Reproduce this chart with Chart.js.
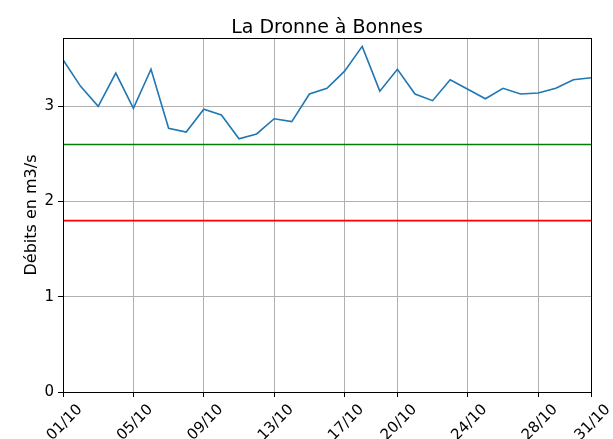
<!DOCTYPE html>
<html>
<head>
<meta charset="utf-8">
<script src="https://cdn.jsdelivr.net/npm/chart.js@4.4.0/dist/chart.umd.min.js"></script>
<style>
html,body{margin:0;padding:0;background:#fff;}
#wrap{width:613px;height:439px;position:relative;}
</style>
</head>
<body>
<div id="wrap"><canvas id="c" width="613" height="439"></canvas></div>
<script>
const title = "La Dronne à Bonnes";
const yLabel = "Débits en m3/s";
const days = [1,2,3,4,5,6,7,8,9,10,11,12,13,14,15,16,17,18,19,20,21,22,23,24,25,26,27,28,29,30,31];
const flows = [3.49,3.21,3.00,3.35,2.98,3.39,2.77,2.73,2.97,2.91,2.66,2.71,2.87,2.84,3.13,3.19,3.37,3.63,3.16,3.39,3.13,3.06,3.28,3.18,3.08,3.19,3.13,3.14,3.19,3.28,3.30];
const greenLevel = 2.6;
const redLevel = 1.8;
const xTickDays = [1,5,9,13,17,20,24,28,31];
const yTicks = [0,1,2,3];
const monthSuffix = "/10";

const FONT = "'DejaVu Sans', sans-serif";

const framePlugin = {
  id: 'frame',
  afterDraw(chart) {
    const {ctx, chartArea: a} = chart;
    ctx.save();
    ctx.strokeStyle = '#000';
    ctx.lineWidth = 1;
    ctx.strokeRect(Math.round(a.left)+0.5, Math.round(a.top)+0.5, Math.round(a.right-a.left), Math.round(a.bottom-a.top));
    ctx.fillStyle = '#000';
    ctx.font = "19px " + FONT;
    ctx.textAlign = 'center';
    ctx.textBaseline = 'alphabetic';
    ctx.fillText(title, (a.left + a.right)/2, 33);
    ctx.restore();
  }
};

new Chart(document.getElementById('c'), {
  type: 'line',
  data: {
    datasets: [
      {
        data: days.map((d,i)=>({x:d, y:flows[i]})),
        borderColor: '#1f77b4', borderWidth: 1.6, pointRadius: 0, tension: 0, fill: false
      },
      {
        data: [{x:days[0], y:greenLevel},{x:days[days.length-1], y:greenLevel}],
        borderColor: '#008000', borderWidth: 1.6, pointRadius: 0, fill: false
      },
      {
        data: [{x:days[0], y:redLevel},{x:days[days.length-1], y:redLevel}],
        borderColor: '#ff0000', borderWidth: 1.6, pointRadius: 0, fill: false
      }
    ]
  },
  options: {
    responsive: false,
    animation: false,
    layout: {padding: {top: 38, right: 22, left: 0, bottom: 0}},
    plugins: {legend: {display: false}, tooltip: {enabled: false}, title: {display: false}},
    scales: {
      x: {
        type: 'linear',
        min: days[0], max: days[days.length-1],
        afterBuildTicks(s){ s.ticks = xTickDays.map(v=>({value:v})); },
        afterFit(s){
          s.height = 47;
          if (!s._shifted) {
            const orig = s.drawLabels;
            s.drawLabels = function(area){
              const ctx = this.ctx;
              ctx.save();
              ctx.translate(17, 2);
              orig.call(this, area);
              ctx.restore();
            };
            s._shifted = true;
          }
        },
        ticks: {
          autoSkip: false, maxRotation: 45, minRotation: 45,
          color: '#000', font: {family: FONT, size: 15}, padding: 2,
          callback: (v)=> String(v).padStart(2,'0') + monthSuffix
        },
        grid: {color: '#b0b0b0', lineWidth: 1, tickColor: '#000', tickLength: 5},
        border: {display: false}
      },
      y: {
        min: 0, max: 3.718,
        afterBuildTicks(s){ s.ticks = yTicks.map(v=>({value:v})); },
        afterFit(s){ s.width = 63; },
        ticks: {color: '#000', font: {family: FONT, size: 15}, padding: 4},
        grid: {color: '#b0b0b0', lineWidth: 1, tickColor: '#000', tickLength: 5},
        border: {display: false},
        title: {display: true, text: yLabel, color: '#000', font: {family: FONT, size: 16}, padding: {top: 22, bottom: 0}}
      }
    }
  },
  plugins: [framePlugin]
});
</script>
</body>
</html>
